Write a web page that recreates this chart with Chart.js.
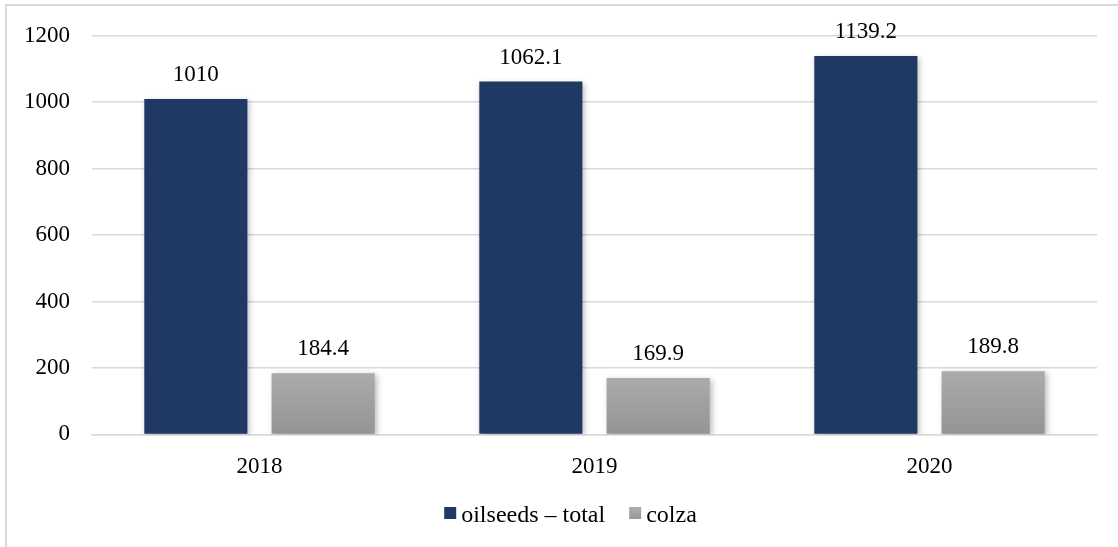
<!DOCTYPE html>
<html>
<head>
<meta charset="utf-8">
<script src="https://cdn.jsdelivr.net/npm/chart.js@4"></script>
<style>
html,body{margin:0;padding:0;background:#fff;}
#wrap{position:absolute;left:0;top:0;width:1118px;height:547px;}
</style>
</head>
<body>
<div id="wrap"><canvas id="c" width="1118" height="547"></canvas></div>
<script>
const categories = ["2018", "2019", "2020"];
const oilseedsTotal = [1010, 1062.1, 1139.2];
const colza = [184.4, 169.9, 189.8];
const seriesNames = ["oilseeds \u2013 total", "colza"];
const yTicks = [0, 200, 400, 600, 800, 1000, 1200];

const FONT = "'Liberation Serif', 'Times New Roman', serif";
const NAVY = "#203864";

function grayGradient(ctx) {
  const chart = ctx.chart;
  const area = chart.chartArea;
  if (!area || ctx.raw === undefined) return "#a0a0a0";
  const y = chart.scales.y;
  const top = y.getPixelForValue(ctx.raw);
  const bottom = y.getPixelForValue(0);
  const g = chart.ctx.createLinearGradient(0, top, 0, bottom);
  g.addColorStop(0, "#ababab");
  g.addColorStop(1, "#949494");
  return g;
}

const frame = {
  id: "frame",
  beforeDraw(chart) {
    const c = chart.ctx;
    c.save();
    c.strokeStyle = "#d9d9d9";
    c.lineWidth = 2;
    c.beginPath();
    c.moveTo(6, 547);
    c.lineTo(6, 5);
    c.lineTo(1118, 5);
    c.stroke();
    c.restore();
  }
};

const shadow = {
  id: "shadow",
  beforeDatasetDraw(chart) {
    const c = chart.ctx;
    c.save();
    c.shadowColor = "rgba(0,0,0,0.28)";
    c.shadowBlur = 6;
    c.shadowOffsetX = 2;
    c.shadowOffsetY = 2;
  },
  afterDatasetDraw(chart) {
    chart.ctx.restore();
  }
};

const labels = {
  id: "valueLabels",
  afterDatasetsDraw(chart) {
    const c = chart.ctx;
    c.save();
    c.font = "23px " + FONT;
    c.fillStyle = "#000";
    c.textAlign = "center";
    c.textBaseline = "alphabetic";
    chart.data.datasets.forEach((ds, di) => {
      const meta = chart.getDatasetMeta(di);
      meta.data.forEach((bar, i) => {
        c.fillText(String(ds.data[i]), bar.x, bar.y - 18);
      });
    });
    c.restore();
  }
};

const legendBottom = {
  id: "legendBottom",
  afterDraw(chart) {
    const c = chart.ctx;
    c.save();
    c.font = "24px " + FONT;
    c.textBaseline = "middle";
    c.textAlign = "left";
    const box = 12, gap = 5, itemGap = 24;
    const fills = [NAVY, null];
    const widths = seriesNames.map(t => c.measureText(t).width);
    const total = widths.reduce((a, w) => a + box + gap + w, 0) + itemGap * (seriesNames.length - 1);
    let x = 570.5 - total / 2;
    const cy = 516;
    seriesNames.forEach((t, i) => {
      let f = fills[i];
      if (!f) {
        f = c.createLinearGradient(0, cy - 7, 0, cy + 5);
        f.addColorStop(0, "#ababab");
        f.addColorStop(1, "#949494");
      }
      c.fillStyle = f;
      c.fillRect(x, cy - 9, box, box);
      x += box + gap;
      c.fillStyle = "#000";
      c.fillText(t, x, cy);
      x += widths[i] + itemGap;
    });
    c.restore();
  }
};

new Chart(document.getElementById("c"), {
  type: "bar",
  data: {
    labels: categories,
    datasets: [
      { label: seriesNames[0], data: oilseedsTotal, backgroundColor: NAVY, borderWidth: 0,
        categoryPercentage: 0.76, barPercentage: 0.81 },
      { label: seriesNames[1], data: colza, backgroundColor: grayGradient, borderWidth: 0,
        categoryPercentage: 0.76, barPercentage: 0.81 }
    ]
  },
  options: {
    responsive: false,
    animation: false,
    devicePixelRatio: 1,
    layout: { padding: { top: 35, right: 21, left: 0, bottom: 47 } },
    plugins: {
      tooltip: { enabled: false },
      legend: { display: false }
    },
    scales: {
      x: {
        grid: { display: false, drawTicks: false },
        border: { display: true, color: "#d9d9d9", width: 1.5 },
        ticks: { font: { family: FONT, size: 23 }, color: "#000", padding: 19 }
      },
      y: {
        min: 0, max: 1200,
        afterFit(scale) { scale.width = 92; },
        afterBuildTicks(scale) { scale.ticks = yTicks.map(v => ({ value: v })); },
        grid: { color: "#d9d9d9", lineWidth: 1.5, drawTicks: false },
        border: { display: false },
        ticks: { font: { family: FONT, size: 23 }, color: "#000", padding: 22,
                 callback: (v) => String(v) }
      }
    }
  },
  plugins: [frame, shadow, labels, legendBottom]
});
</script>
</body>
</html>
